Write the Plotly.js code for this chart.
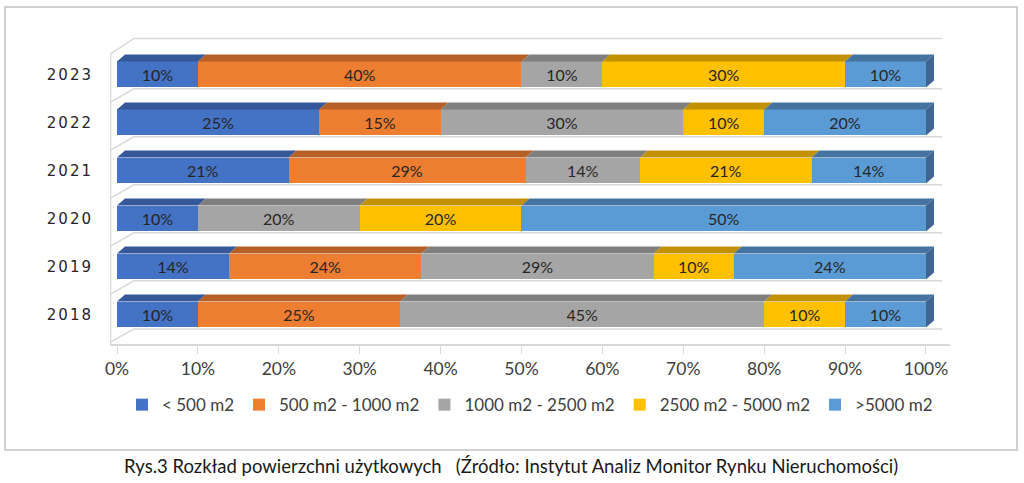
<!DOCTYPE html>
<html>
<head>
<meta charset="utf-8">
<script src="https://cdn.plot.ly/plotly-3.0.1.min.js"></script>
<style>
  html, body { margin: 0; padding: 0; background: #fff; }
  #chart { width: 1024px; height: 483px; }
  #chart .ytick text { letter-spacing: 2px; }
</style>
</head>
<body>
<div id="chart"></div>
<script>
"use strict";

// values as printed on the bars (Excel normalises each row to 100%)
const years = ["2018", "2019", "2020", "2021", "2022", "2023"];
const seriesNames = ["< 500 m2", "500 m2 - 1000 m2", "1000 m2 - 2500 m2", "2500 m2 - 5000 m2", ">5000 m2"];
const lt500 = [10, 14, 10, 21, 25, 10];
const m500to1000 = [25, 24, 0, 29, 15, 40];
const m1000to2500 = [45, 29, 20, 14, 30, 10];
const m2500to5000 = [10, 10, 20, 21, 10, 30];
const gt5000 = [10, 24, 50, 14, 20, 10];
const xTicks = [0, 10, 20, 30, 40, 50, 60, 70, 80, 90, 100];
const caption = "Rys.3 Rozkład powierzchni użytkowych   (Źródło: Instytut Analiz Monitor Rynku Nieruchomości)";

const series = [lt500, m500to1000, m1000to2500, m2500to5000, gt5000];
const frontColors = ["#4472C4", "#ED7D31", "#A5A5A5", "#FFC000", "#5B9BD5"];
const topColors = ["#34589A", "#B65F27", "#7F7F7F", "#C29100", "#44739F"];
const sideColor = "#3E6790";
const font = "Lato, 'Open Sans', sans-serif";

const rowIdx = years.map((_, i) => i);
const barWidth = 0.54;
const depthX = 0.99;   // 3d depth in x units (~8px)
const depthY = 0.146;  // 3d depth in y units (~7px)

const traces = series.map((vals, s) => ({
    type: "bar",
    orientation: "h",
    name: seriesNames[s],
    y: rowIdx,
    x: vals,
    width: barWidth,
    text: vals.map((v) => (v > 0 ? `${v}%` : "")),
    textposition: "inside",
    insidetextanchor: "middle",
    textangle: 0,
    constraintext: "none",
    textfont: { family: font, size: 16, color: "#262626" },
    marker: { color: frontColors[s], line: { width: 0 } },
    hoverinfo: "skip",
}));

const shapes = [];
const gridColor = "#D9D9D9";

// 3d "walls": floor separators and back edge
for (let i = 0; i <= years.length; i++) {
    const front = i - 0.58;
    const back = i === years.length ? i - 0.25 : i - 0.3;
    shapes.push({
        type: "path", xref: "x", yref: "y", layer: "below",
        path: `M-0.865,${front} L2.1,${back} L102,${back}`,
        line: { color: gridColor, width: 1.5 },
    });
}
shapes.push({
    type: "line", xref: "x", yref: "y", layer: "below",
    x0: -0.8, x1: -0.8, y0: -0.615, y1: years.length - 0.58,
    line: { color: gridColor, width: 1.5 },
});

// top faces and right side face of every bar
rowIdx.forEach((i) => {
    const total = series.reduce((acc, vals) => acc + vals[i], 0);
    const yTop = i + barWidth / 2;
    let start = 0;
    series.forEach((vals, s) => {
        if (vals[i] <= 0) {
            return;
        }
        const end = start + (vals[i] * 100) / total;
        shapes.push({
            type: "path", xref: "x", yref: "y",
            path: `M${start},${yTop} L${end},${yTop} L${end + depthX},${yTop + depthY} L${start + depthX},${yTop + depthY} Z`,
            fillcolor: topColors[s],
            line: { width: 0 },
        });
        start = end;
    });
    const yBot = i - barWidth / 2;
    shapes.push({
        type: "path", xref: "x", yref: "y",
        path: `M100,${yBot} L100,${yTop} L${100 + depthX},${yTop + depthY} L${100 + depthX},${yBot + depthY} Z`,
        fillcolor: sideColor,
        line: { width: 0 },
    });
});

// outer frame
shapes.push({
    type: "rect", xref: "paper", yref: "paper", layer: "below",
    x0: -0.125, x1: 1.0798, y0: -0.345, y1: 1.0977,
    line: { color: "#CFCFCF", width: 2 },
});

Plotly.newPlot(
    "chart",
    traces,
    {
        width: 1024,
        height: 483,
        barmode: "stack",
        barnorm: "percent",
        margin: { t: 37, r: 74, b: 139, l: 110 },
        paper_bgcolor: "#FFFFFF",
        plot_bgcolor: "rgba(0,0,0,0)",
        showlegend: true,
        xaxis: {
            range: [-0.865, 102.97],
            tickvals: xTicks,
            ticktext: xTicks.map((v) => `${v}%`),
            showgrid: false,
            zeroline: false,
            showline: true,
            linecolor: gridColor,
            linewidth: 2,
            ticks: "outside",
            ticklen: 8,
            tickcolor: gridColor,
            tickfont: { family: font, size: 17.5, color: "#404040" },
            fixedrange: true,
        },
        yaxis: {
            range: [-0.615, 5.78],
            tickvals: rowIdx,
            ticktext: years,
            showgrid: false,
            zeroline: false,
            showline: false,
            ticks: "",
            ticklabelstandoff: 16,
            tickfont: { family: "'DejaVu Sans', sans-serif", size: 15, color: "#262626" },
            fixedrange: true,
        },
        legend: {
            orientation: "h",
            x: 0.5,
            xanchor: "center",
            y: -0.199,
            yanchor: "middle",
            traceorder: "normal",
            itemwidth: 30,
            font: { family: font, size: 17, color: "#404040" },
            itemclick: false,
            itemdoubleclick: false,
        },
        annotations: [{
            xref: "paper", yref: "paper",
            x: 0.477, y: -0.397,
            xanchor: "center", yanchor: "middle",
            showarrow: false,
            text: caption,
            font: { family: font, size: 18.5, color: "#1A1A1A" },
        }],
        shapes: shapes,
    },
    { displayModeBar: false, staticPlot: true }
);
</script>
</body>
</html>
